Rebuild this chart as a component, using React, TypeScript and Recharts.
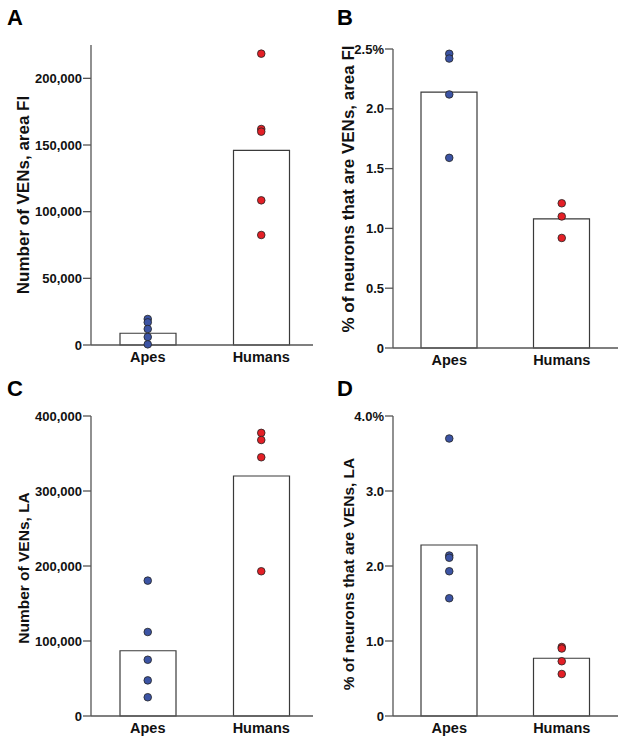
import React from 'react';
import { ComposedChart, Bar, Line, XAxis, YAxis } from 'recharts';

const CATEGORIES = ['Apes', 'Humans'];

const meansA = [8800, 146000];
const apesA = [19500, 17000, 12000, 6000, 500];
const humansA = [218500, 162000, 160000, 108500, 82500];
const ticksA = [0, 50000, 100000, 150000, 200000];

const meansB = [2.14, 1.08];
const apesB = [2.46, 2.42, 2.12, 1.59];
const humansB = [1.21, 1.1, 0.92];
const ticksB = [0, 0.5, 1.0, 1.5, 2.0, 2.5];

const meansC = [87000, 320000];
const apesC = [180500, 112000, 75000, 47500, 25000];
const humansC = [377500, 368000, 345000, 193000];
const ticksC = [0, 100000, 200000, 300000, 400000];

const meansD = [2.28, 0.77];
const apesD = [3.7, 2.14, 2.11, 1.93, 1.57];
const humansD = [0.92, 0.9, 0.73, 0.56];
const ticksD = [0, 1.0, 2.0, 3.0, 4.0];

const POINT_KEYS = ['p0', 'p1', 'p2', 'p3', 'p4'];

function buildRows(means: number[], apes: number[], humans: number[]) {
  return CATEGORIES.map((name, i) => {
    const vals = i === 0 ? apes : humans;
    const row: any = { name, mean: means[i] };
    POINT_KEYS.forEach((k, j) => {
      row[k] = vals[j] !== undefined ? vals[j] : null;
    });
    return row;
  });
}

const FONT = '"Liberation Sans", Arial, Helvetica, sans-serif';
const BLUE = '#3c54a4';
const RED = '#e41f26';
const AXIS = '#555555';

const fmtCount = (v: number) => (v === 0 ? '0' : v.toLocaleString('en-US'));
const fmtPct = (max: number) => (v: number) =>
  v === 0 ? '0' : v === max ? `${v.toFixed(1)}%` : v.toFixed(1);

const renderDot = (props: any) => {
  const { cx, cy, payload, index, dataKey } = props;
  const key = `${dataKey}-${index}`;
  if (cy == null || cx == null || isNaN(cy)) return <g key={key} />;
  return (
    <circle
      key={key}
      cx={cx}
      cy={cy}
      r={3.8}
      fill={payload.name === 'Apes' ? BLUE : RED}
      stroke="#222"
      strokeWidth={0.8}
    />
  );
};

type PanelProps = {
  left: number;
  top: number;
  clipWidth: number;
  chartWidth: number;
  plotLeft: number;
  plotTop: number;
  plotBottom: number;
  rows: any[];
  domain: [number, number];
  ticks: number[];
  fmt: (v: number) => string;
  yLabel: string;
  labelX: number;
  labelY: number;
  labelSize: number;
  letter: string;
  letterX: number;
  letterY: number;
};

function Panel(p: PanelProps) {
  const height = 372;
  return (
    <div
      style={{
        position: 'absolute',
        left: p.left,
        top: p.top,
        width: p.clipWidth,
        height,
        overflow: 'hidden',
      }}
    >
      <div
        style={{
          position: 'absolute',
          left: p.letterX,
          top: p.letterY,
          fontFamily: FONT,
          fontWeight: 'bold',
          fontSize: 22,
          lineHeight: '22px',
          color: '#000',
        }}
      >
        {p.letter}
      </div>
      <ComposedChart
        width={p.chartWidth}
        height={height}
        data={p.rows}
        margin={{ top: p.plotTop, right: 0, bottom: 0, left: 0 }}
      >
        <XAxis
          dataKey="name"
          type="category"
          height={height - p.plotBottom}
          tickLine={false}
          tickSize={0}
          tickMargin={7}
          axisLine={{ stroke: AXIS, strokeWidth: 1.3 }}
          tick={{ fill: '#111', fontSize: 14.5, fontWeight: 'bold', fontFamily: FONT }}
        />
        <YAxis
          type="number"
          width={p.plotLeft}
          domain={p.domain}
          ticks={p.ticks}
          interval={0}
          tickFormatter={p.fmt}
          tickSize={8}
          tickMargin={1}
          axisLine={{ stroke: AXIS, strokeWidth: 1.3 }}
          tickLine={{ stroke: AXIS, strokeWidth: 1.3 }}
          tick={{ fill: '#111', fontSize: 13, fontWeight: 'bold', fontFamily: FONT }}
          label={{
            content: () => (
              <text
                x={p.labelX}
                y={p.labelY}
                transform={`rotate(-90 ${p.labelX} ${p.labelY})`}
                textAnchor="middle"
                fontFamily={FONT}
                fontWeight="bold"
                fontSize={p.labelSize}
                fill="#111"
              >
                {p.yLabel}
              </text>
            ),
          }}
        />
        <Bar
          dataKey="mean"
          barSize={56}
          fill="#ffffff"
          stroke="#3a3a3a"
          strokeWidth={1.2}
          isAnimationActive={false}
        />
        {POINT_KEYS.map((k) => (
          <Line
            key={k}
            dataKey={k}
            stroke="none"
            dot={renderDot}
            activeDot={false}
            legendType="none"
            isAnimationActive={false}
          />
        ))}
      </ComposedChart>
    </div>
  );
}

export default function App() {
  return (
    <div
      style={{
        position: 'absolute',
        left: 0,
        top: 0,
        width: 626,
        height: 744,
        background: '#fff',
      }}
    >
      <Panel
        left={0}
        top={0}
        clipWidth={313}
        chartWidth={318}
        plotLeft={91}
        plotTop={45}
        plotBottom={345}
        rows={buildRows(meansA, apesA, humansA)}
        domain={[0, 225000]}
        ticks={ticksA}
        fmt={fmtCount}
        yLabel="Number of VENs, area FI"
        labelX={29}
        labelY={195}
        labelSize={17}
        letter="A"
        letterX={7}
        letterY={7}
      />
      <Panel
        left={313}
        top={0}
        clipWidth={313}
        chartWidth={305}
        plotLeft={80}
        plotTop={49}
        plotBottom={348}
        rows={buildRows(meansB, apesB, humansB)}
        domain={[0, 2.5]}
        ticks={ticksB}
        fmt={fmtPct(2.5)}
        yLabel="% of neurons that are VENs, area FI"
        labelX={41}
        labelY={189}
        labelSize={17}
        letter="B"
        letterX={24}
        letterY={7}
      />
      <Panel
        left={0}
        top={372}
        clipWidth={313}
        chartWidth={318}
        plotLeft={91}
        plotTop={44}
        plotBottom={344}
        rows={buildRows(meansC, apesC, humansC)}
        domain={[0, 400000]}
        ticks={ticksC}
        fmt={fmtCount}
        yLabel="Number of VENs, LA"
        labelX={29}
        labelY={196}
        labelSize={15.5}
        letter="C"
        letterX={7}
        letterY={6}
      />
      <Panel
        left={313}
        top={372}
        clipWidth={313}
        chartWidth={305}
        plotLeft={80}
        plotTop={44}
        plotBottom={344}
        rows={buildRows(meansD, apesD, humansD)}
        domain={[0, 4]}
        ticks={ticksD}
        fmt={fmtPct(4)}
        yLabel="% of neurons that are VENs, LA"
        labelX={41}
        labelY={202}
        labelSize={15.5}
        letter="D"
        letterX={24}
        letterY={6}
      />
    </div>
  );
}
